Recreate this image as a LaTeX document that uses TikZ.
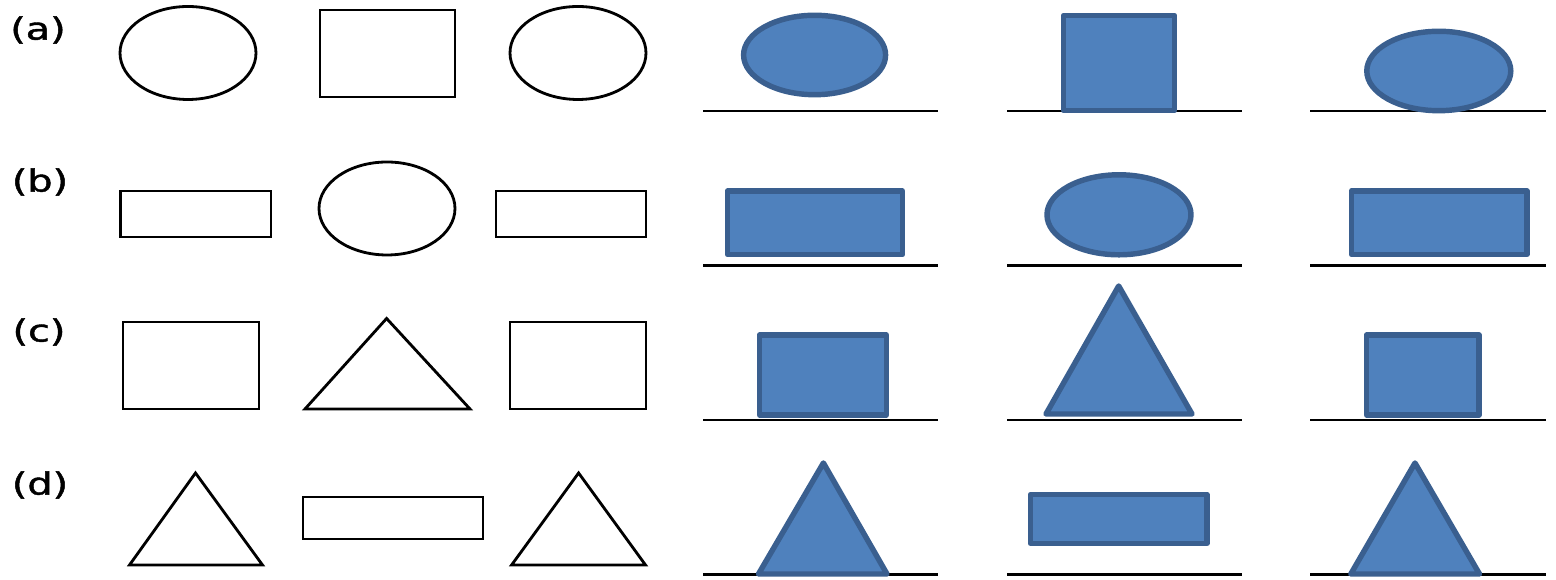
\documentclass[tikz,border=0pt]{standalone}
\usepackage{fontspec}
\setmainfont{DejaVu Sans}
\newfontfamily\lblfont[FakeBold=1.3]{DejaVu Sans}
\definecolor{shfill}{HTML}{4F81BD}
\definecolor{shline}{HTML}{3A5F8F}
\tikzset{
  outl/.style={draw=black, line width=0.8pt, line join=miter},
  solid3d/.style={draw=shline, fill=shfill, line width=1.55pt, line join=round},
  ground/.style={draw=black, line width=0.7pt},
  lbl/.style={font=\lblfont\fontsize{8.7pt}{10pt}\selectfont, inner sep=0pt, xscale=1.3}
}
\begin{document}
\begin{tikzpicture}[x=0.01cm, y=-0.01cm]
\useasboundingbox (0,0) rectangle (1556,580);
% labels
\node[lbl] (la) at (38,30) {(a)};
\node[lbl] (lb) at (40,182) {(b)};
\node[lbl] (lc) at (39,332) {(c)};
\node[lbl] (ld) at (40,485) {(d)};
% left outlines
% row a
\draw[outl] (188,53) ellipse [x radius=68, y radius=46.5];
\draw[outl] (320,10) rectangle (455,97);
\draw[outl] (578,53) ellipse [x radius=68, y radius=46.5];
% row b
\draw[outl] (120.5,191) rectangle (271,237);
\draw[outl] (387,208.5) ellipse [x radius=68, y radius=46.5];
\draw[outl] (496,191) rectangle (646,237);
% row c
\draw[outl] (123,322) rectangle (259,409);
\draw[outl] (386.6,318.5) -- (470,409) -- (305,409) -- cycle;
\draw[outl] (510,322) rectangle (646,409);
% row d
\draw[outl] (195.5,473) -- (262.5,565) -- (129.5,565) -- cycle;
\draw[outl] (303,497) rectangle (483,539);
\draw[outl] (578.6,473) -- (645.5,565) -- (511.6,565) -- cycle;
% ground lines
\foreach \gy in {111,265.7,420,574.3}{
  \draw[ground] (703,\gy) -- (938,\gy);
  \draw[ground] (1007,\gy) -- (1241.5,\gy);
  \draw[ground] (1310,\gy) -- (1546,\gy);
}
% right solids
% row a
\draw[solid3d] (814.6,55) ellipse [x radius=71, y radius=39.7];
\draw[solid3d] (1063.5,15.5) rectangle (1174.5,110.5);
\draw[solid3d] (1438.8,71) ellipse [x radius=72, y radius=39.7];
% row b
\draw[solid3d] (727.5,191) rectangle (902.5,254.5);
\draw[solid3d] (1119,214.8) ellipse [x radius=72, y radius=40];
\draw[solid3d] (1351.3,191) rectangle (1527,254.5);
% row c
\draw[solid3d] (759.5,335) rectangle (886.5,415);
\draw[solid3d] (1118.7,286) -- (1192,414) -- (1046,414) -- cycle;
\draw[solid3d] (1366.5,335) rectangle (1479,415);
% row d
\draw[solid3d] (823.4,463) -- (887,574) -- (758.5,574) -- cycle;
\draw[solid3d] (1030.5,494.5) rectangle (1207,543.3);
\draw[solid3d] (1415,463) -- (1479.5,574) -- (1350.8,574) -- cycle;
\end{tikzpicture}
\end{document}
